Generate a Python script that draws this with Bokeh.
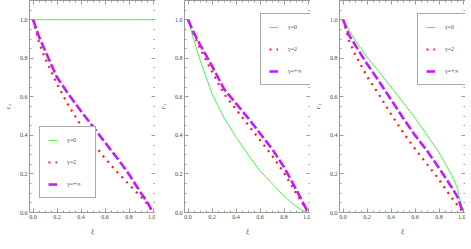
from bokeh.plotting import figure
from bokeh.layouts import row
from bokeh.models import (LinearAxis, Range1d, Legend, LegendItem, FixedTicker,
                          NumeralTickFormatter, CustomJSTickFormatter)
from bokeh.embed import file_html
from bokeh.resources import INLINE

xs = [0.0, 0.05, 0.1, 0.2, 0.3, 0.4, 0.5, 0.6, 0.7, 0.8, 0.9, 0.95, 1.0]

# panel 1
green1 = [1.0] * 13
red1 = [1.0, 0.88, 0.80, 0.665, 0.55, 0.45, 0.36, 0.28, 0.21, 0.145, 0.08, 0.045, 0.0]
purple1 = [1.0, 0.91, 0.84, 0.70, 0.61, 0.525, 0.445, 0.363, 0.283, 0.197, 0.10, 0.055, 0.0]

# panel 2
green2 = [1.0, 0.89, 0.79, 0.615, 0.49, 0.39, 0.30, 0.215, 0.15, 0.085, 0.03, 0.012, 0.0]
red2 = [1.0, 0.92, 0.85, 0.73, 0.615, 0.535, 0.455, 0.375, 0.295, 0.205, 0.10, 0.05, 0.0]
purple2 = [1.0, 0.93, 0.87, 0.76, 0.64, 0.565, 0.49, 0.41, 0.33, 0.235, 0.12, 0.06, 0.0]

# panel 3
green3 = [1.0, 0.945, 0.895, 0.805, 0.73, 0.65, 0.57, 0.49, 0.40, 0.31, 0.20, 0.13, 0.0]
red3 = [1.0, 0.89, 0.82, 0.705, 0.61, 0.51, 0.415, 0.33, 0.25, 0.17, 0.08, 0.04, 0.0]
purple3 = [1.0, 0.92, 0.87, 0.77, 0.68, 0.585, 0.49, 0.40, 0.32, 0.23, 0.135, 0.085, 0.0]

labels = ["γ=0", "γ=2", "γ=+∞"]
ticks = [0.0, 0.2, 0.4, 0.6, 0.8, 1.0]

FONT = "Liberation Serif"
AX = "#9a9a9a"


def style_axis(ax, show):
    ax.axis_line_color = AX
    ax.major_tick_line_color = AX
    ax.minor_tick_line_color = AX
    ax.major_tick_in = 4
    ax.major_tick_out = 0
    ax.minor_tick_in = 2
    ax.minor_tick_out = 0
    ax.ticker = FixedTicker(ticks=ticks, minor_ticks=[i * 0.05 for i in range(0, 23)])
    ax.major_label_text_font = FONT
    ax.major_label_text_color = "#444444"
    if show:
        ax.formatter = NumeralTickFormatter(format="0.0")
        ax.major_label_text_font_size = "6px"
        ax.major_label_standoff = 2
        ax.axis_label_text_font = FONT
        ax.axis_label_text_font_size = "7px"
        ax.axis_label_text_font_style = "italic"
        ax.axis_label_text_color = "#444444"
        ax.axis_label_standoff = 5
    else:
        ax.formatter = CustomJSTickFormatter(code="return ''")
        ax.major_label_text_font_size = "6px"
        ax.major_label_standoff = 0


def make(g, r, pu, legend_loc, left):
    p = figure(frame_width=126, frame_height=212, output_backend="svg",
               toolbar_location=None, x_range=Range1d(-0.03, 1.02),
               y_range=Range1d(0, 1.1), min_border_left=left, min_border_right=0,
               min_border_top=0, min_border_bottom=0)
    p.grid.visible = False
    p.outline_line_color = None
    p.xaxis.axis_label = "ξ"
    p.yaxis.axis_label = "c₁"
    style_axis(p.xaxis[0], True)
    style_axis(p.yaxis[0], True)
    top = LinearAxis()
    right = LinearAxis()
    style_axis(top, False)
    style_axis(right, False)
    p.add_layout(top, "above")
    p.add_layout(right, "right")
    l0 = p.line(xs, g, line_color="#4cf24c", line_width=1)
    l1 = p.line(xs, r, line_color="#ff1a1a", line_width=2.2, line_dash="2 5")
    l2 = p.line(xs, pu, line_color="#c21aff", line_width=2.6, line_dash="9 3")
    leg = Legend(items=[LegendItem(label=labels[0], renderers=[l0]),
                        LegendItem(label=labels[1], renderers=[l1]),
                        LegendItem(label=labels[2], renderers=[l2])],
                 location=legend_loc)
    leg.label_text_font = FONT
    leg.label_text_font_size = "6px"
    leg.label_text_color = "#555555"
    leg.glyph_width = 9
    leg.glyph_height = 10
    leg.label_height = 10
    leg.label_standoff = 10
    leg.spacing = 12
    leg.padding = 8
    leg.margin = 0
    leg.border_line_color = "#555555"
    leg.border_line_width = 1
    leg.background_fill_alpha = 1
    p.add_layout(leg)
    return p


p1 = make(green1, red1, purple1, (10, 14), 5)
p2 = make(green2, red2, purple2, (76, 127), 5)
p3 = make(green3, red3, purple3, (78, 127), 5)

lay = row(p1, p2, p3, spacing=0)
open("out.html", "w").write(file_html(lay, INLINE))
